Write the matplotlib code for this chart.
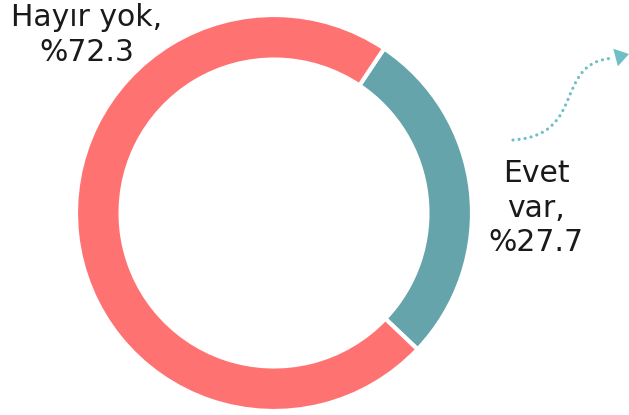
import numpy as np
import matplotlib
matplotlib.use("Agg")
from matplotlib import pyplot as plt
from matplotlib.patches import FancyArrowPatch, PathPatch
from matplotlib.path import Path

labels = ["Evet\nvar,", "Hayır yok,"]
values = [27.7, 72.3]
colors = ["#64A4AA", "#FF7272"]

plt.rcParams['font.family'] = ['DejaVu Sans']

fig = plt.figure(figsize=(6.29, 4.15), dpi=100)
ax = fig.add_axes([76 / 629, 4 / 415, 396 / 629, 396 / 415])
ax.pie(values, colors=colors, startangle=56.2, counterclock=False,
       radius=1, wedgeprops=dict(width=0.225, edgecolor="white", linewidth=3))
ax.set_xlim(-1, 1)
ax.set_ylim(-1, 1)
ax.set_aspect("equal")
ax.axis("off")

# labels
fig.text(87 / 629, 1 - 35 / 415, f"{labels[1]}\n%{values[1]}", ha="center", va="center",
         fontsize=21.5, color="#1a1a1a", linespacing=1.25)
fig.text(536 / 629, 1 - 208 / 415, f"{labels[0]}\n%{values[0]}", ha="center", va="center",
         fontsize=21.5, color="#1a1a1a", linespacing=1.25)

# dotted curved arrow
def fc(x, y):
    return (x / 629, 1 - y / 415)

arrow_col = "#6EBFC6"
verts = [fc(513, 140), fc(588, 135), fc(552, 62), fc(614, 58)]
path = Path(verts, [Path.MOVETO, Path.CURVE4, Path.CURVE4, Path.CURVE4])
curve = PathPatch(path, transform=fig.transFigure, fill=False, edgecolor=arrow_col,
                  linewidth=2.3, linestyle=(0, (0.01, 1.9)), capstyle="round")
fig.patches.append(curve)
head = FancyArrowPatch(fc(610, 59), fc(629, 54), transform=fig.transFigure,
                       arrowstyle="-|>,head_length=10,head_width=6.5", mutation_scale=1,
                       color=arrow_col, linewidth=0, shrinkA=0, shrinkB=0)
fig.patches.append(head)

fig.savefig("out.png", dpi=100)
